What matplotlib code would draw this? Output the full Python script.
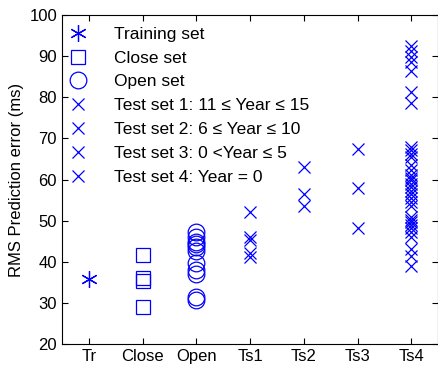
import matplotlib
matplotlib.use("Agg")
import matplotlib.pyplot as plt

plt.rcParams['font.family'] = ['Liberation Sans', 'DejaVu Sans']

CATEGORIES = ["Tr", "Close", "Open", "Ts1", "Ts2", "Ts3", "Ts4"]

training = [35.8]
close_set = [41.6, 36.0, 35.2, 29.0]
open_set = [47.3, 46.1, 44.9, 44.3, 43.6, 42.5, 39.7, 38.0, 37.0, 31.4, 30.6]
test1 = [52.2, 46.0, 45.3, 42.0, 41.2]
test2 = [63.0, 56.5, 53.5]
test3 = [67.5, 58.0, 48.2]
test4 = [92.5, 91.2, 89.8, 88.6, 86.3, 81.3, 78.6,
         68.0, 67.2, 66.3, 65.5, 63.5, 62.3, 61.2, 60.4, 59.8, 59.0,
         58.2, 57.3, 56.4, 55.6, 54.6, 53.5, 50.8, 50.2, 49.6, 49.0,
         48.2, 47.2, 46.0, 43.2, 41.4, 39.0]

LABELS = ["Training set", "Close set", "Open set",
          "Test set 1: 11 \u2264 Year \u2264 15",
          "Test set 2: 6 \u2264 Year \u2264 10",
          "Test set 3: 0 <Year \u2264 5",
          "Test set 4: Year = 0"]

BLUE = "#0000ff"

fig = plt.figure(figsize=(4.39, 3.69), dpi=100)
ax = fig.add_axes([0.141, 0.068, 0.857, 0.891])

groups = [training, close_set, open_set, test1, test2, test3, test4]
markers = [(6, 2, 0), "s", "o", "x", "x", "x", "x"]
sizes = [12, 10, 12, 8.5, 8.5, 8.5, 8.5]

for i, (vals, m, ms, lab) in enumerate(zip(groups, markers, sizes, LABELS)):
    ax.plot([i + 1] * len(vals), vals, linestyle="none", marker=m,
            markersize=ms, markerfacecolor="none", markeredgecolor=BLUE,
            markeredgewidth=0.9, label=lab)

ax.set_xlim(0.5, 7.5)
ax.set_ylim(20, 100)
ax.set_xticks(range(1, 8))
ax.set_xticklabels(CATEGORIES)
ax.set_yticks(range(20, 101, 10))
ax.tick_params(direction="in", top=True, right=True, labelsize=12,
               length=4, width=0.8)
ax.set_ylabel("RMS Prediction error (ms)", fontsize=12)

ax.legend(loc="upper left", bbox_to_anchor=(0.0, 0.986), frameon=False,
          fontsize=12.5, numpoints=1, handlelength=1.0, handletextpad=1.6,
          labelspacing=0.5, borderaxespad=0.0)

fig.savefig("out.png", dpi=100)
